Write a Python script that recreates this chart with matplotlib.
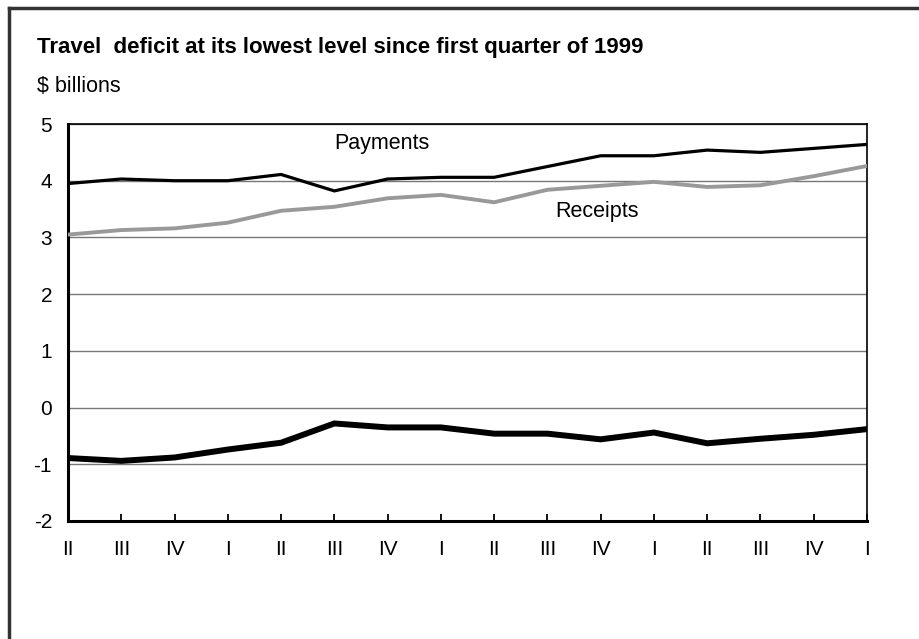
import matplotlib.pyplot as plt
import numpy as np

# Data
quarters = ['II', 'III', 'IV', 'I', 'II', 'III', 'IV', 'I',
            'II', 'III', 'IV', 'I', 'II', 'III', 'IV', 'I']
payments = [3.95, 4.03, 4.00, 4.00, 4.11, 3.82, 4.03, 4.06,
            4.06, 4.25, 4.44, 4.44, 4.54, 4.50, 4.57, 4.64]
receipts = [3.05, 3.13, 3.16, 3.26, 3.47, 3.54, 3.69, 3.75,
            3.62, 3.84, 3.91, 3.98, 3.89, 3.92, 4.08, 4.26]
balance = [-0.89, -0.94, -0.88, -0.74, -0.62, -0.28, -0.35, -0.35,
           -0.46, -0.46, -0.56, -0.44, -0.63, -0.55, -0.48, -0.38]

plt.rcParams['font.family'] = ['Liberation Sans', 'DejaVu Sans']

W, H = 920, 639
fig = plt.figure(figsize=(W / 100, H / 100), dpi=100)

# outer frame (only top and left edges visible in the picture)
fig.add_artist(plt.Line2D([8.5 / W, 1.0], [1 - 8 / H, 1 - 8 / H], color='#333333', lw=2.5,
                          transform=fig.transFigure))
fig.add_artist(plt.Line2D([8.5 / W, 8.5 / W], [0.0, 1 - 8 / H], color='#333333', lw=2.5,
                          transform=fig.transFigure))

left, right, top, bottom = 68, 867, 124, 521
ax = fig.add_axes([left / W, 1 - bottom / H, (right - left) / W, (bottom - top) / H])

x = np.arange(len(quarters))
ax.plot(x, receipts, color='#999999', lw=2.8, solid_joinstyle='miter', zorder=3)
ax.plot(x, payments, color='black', lw=2.3, solid_joinstyle='miter', zorder=4)
ax.plot(x, balance, color='black', lw=4.3, solid_joinstyle='miter', zorder=4)

ax.set_xlim(0, len(quarters) - 1)
ax.set_ylim(-2, 5)
ax.set_yticks(range(-2, 6))
ax.set_yticklabels([str(v) for v in range(-2, 6)], fontsize=15)
ax.set_xticks(x)
ax.set_xticklabels(quarters, fontsize=15)
ax.tick_params(axis='y', length=0, pad=11.5)
ax.tick_params(axis='x', direction='in', length=5, width=1.3, pad=14)
ax.grid(axis='y', color='#777777', lw=1)
ax.set_axisbelow(True)
for s in ['left', 'bottom']:
    ax.spines[s].set_linewidth(2.2)
for s in ['top', 'right']:
    ax.spines[s].set_linewidth(1.2)

ax.text(5.9, 4.66, 'Payments', fontsize=15.5, ha='center', va='center')
ax.text(9.93, 3.45, 'Receipts', fontsize=15.5, ha='center', va='center')

fig.text(37 / W, 1 - 48 / H, 'Travel  deficit at its lowest level since first quarter of 1999',
         fontsize=16, fontweight='bold', ha='left', va='center')
fig.text(37 / W, 1 - 86 / H, '$ billions', fontsize=15.5, ha='left', va='center')

fig.savefig('out.png', dpi=100)
